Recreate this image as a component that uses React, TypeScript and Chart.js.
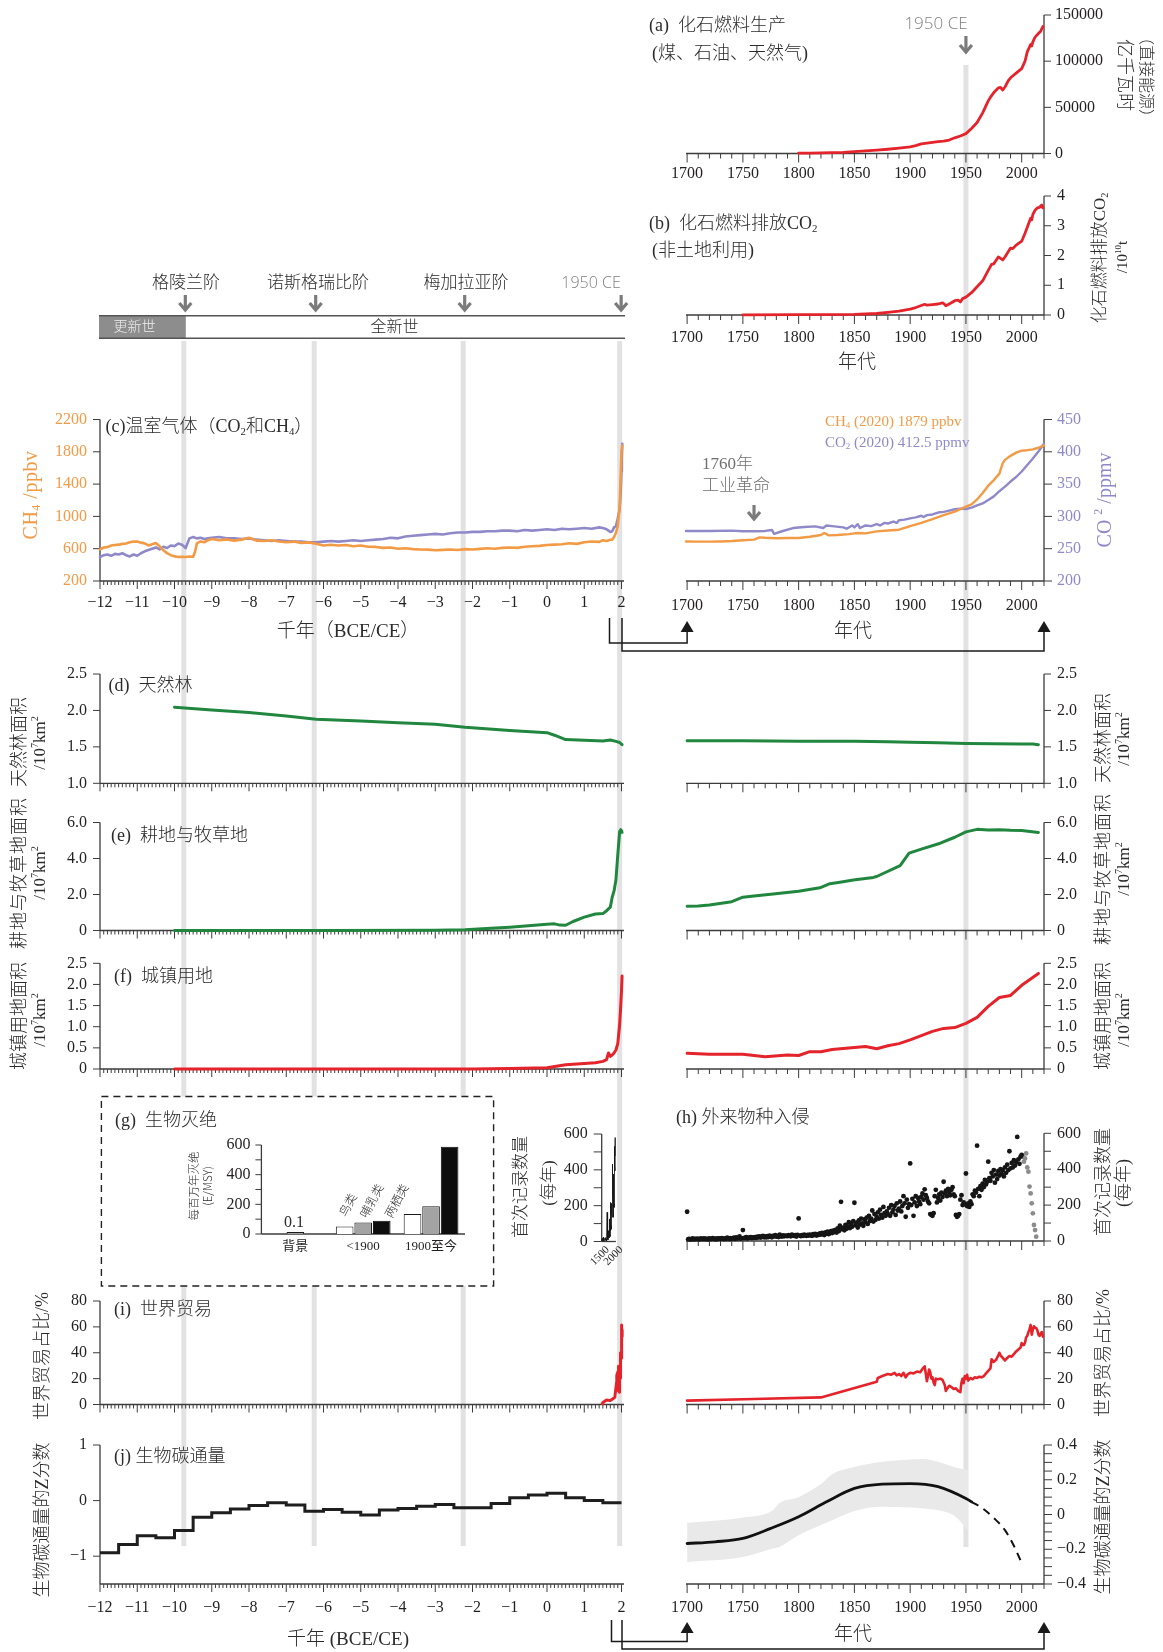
import React, { useEffect, useRef } from 'react';
import { Chart, registerables } from 'chart.js';

Chart.register(...registerables);

const SERIF = '"Liberation Serif", "Times New Roman", serif';
const CJK = '"Liberation Serif", "Noto Sans CJK SC", serif';
const CJK_SANS = '"Noto Sans CJK SC", "Noto Sans", sans-serif';
const SANS = '"Open Sans", "Noto Sans", sans-serif';

Chart.defaults.font.family = CJK;
Chart.defaults.font.size = 16;
Chart.defaults.color = '#231f20';

const RED = '#e4232b';
const GREEN = '#21873f';
const ORANGE = '#f39a45';
const PURPLE = '#8f89c9';
const INK = '#231f20';
const AXIS = '#3c3c3c';
const GRAYTXT = '#808080';
const BAND = '#e2e2e4';

// ---------------- DATA ----------------
// (a) fossil fuel production
const FF_YEAR = [1800,1810,1820,1830,1840,1850,1860,1870,1880,1890,1900,1905,1910,1915,1920,1925,1930,1935,1940,1945,1950,1955,1960,1965,1970,1972,1975,1979,1981,1983,1985,1988,1990,1995,2000,2003,2005,2008,2009,2010,2012,2015,2017,2019];
const FF_VALUE = [300,400,600,900,1300,2000,2800,3600,4600,5800,7200,8500,10500,11300,12000,12800,13500,14600,17000,19000,21500,27000,33500,44000,57000,61000,66000,71000,71500,68800,72000,79000,82000,87000,92000,100000,110000,118000,116500,121000,126000,130000,132500,137500];
const FF_TICKS = [0, 50000, 100000, 150000];

// (b) fossil CO2 emissions (10^10 t)
const CO2E_YEAR = [1750,1800,1850,1870,1880,1890,1900,1905,1910,1913,1915,1920,1925,1929,1930,1932,1935,1940,1943,1945,1947,1950,1955,1960,1965,1970,1973,1975,1979,1980,1983,1985,1990,1992,1995,2000,2003,2005,2008,2009,2010,2012,2014,2016,2018,2019];
const CO2E_VALUE = [0.003,0.01,0.02,0.05,0.09,0.13,0.2,0.25,0.32,0.36,0.33,0.35,0.37,0.41,0.39,0.31,0.37,0.48,0.5,0.44,0.55,0.6,0.75,0.95,1.15,1.5,1.7,1.72,1.95,1.93,1.85,1.95,2.25,2.23,2.35,2.48,2.75,2.95,3.25,3.2,3.38,3.52,3.6,3.62,3.7,3.6];
const CO2E_TICKS = [0, 1, 2, 3, 4];

// (c) greenhouse gases, ka BCE/CE
const GHG_KA = [-12,-11.9,-11.8,-11.7,-11.6,-11.5,-11.4,-11.3,-11.2,-11.1,
  -11,-10.9,-10.8,-10.7,-10.6,-10.5,-10.4,-10.3,-10.2,-10.1,
  -10,-9.9,-9.8,-9.7,-9.6,-9.5,-9.45,-9.4,-9.3,-9.2,
  -9.1,-9,-8.8,-8.6,-8.4,-8.2,-8,-7.8,-7.6,-7.4,
  -7.2,-7,-6.8,-6.6,-6.4,-6.2,-6,-5.8,-5.6,-5.4,
  -5.2,-5,-4.8,-4.6,-4.4,-4.2,-4,-3.8,-3.6,-3.4,
  -3.2,-3,-2.8,-2.6,-2.4,-2.2,-2,-1.8,-1.6,-1.4,
  -1.2,-1,-0.8,-0.6,-0.4,-0.2,0,0.2,0.4,0.6,
  0.8,1,1.2,1.4,1.5,1.6,1.7,1.75,1.8,1.85,
  1.9,1.95,1.98,2,2.01,2.02];
const CH4_L = [590,615,620,640,645,650,660,665,680,690,
  688,675,665,640,655,670,630,580,545,520,
  505,498,500,497,503,500,560,665,690,680,
  705,720,705,715,700,712,735,700,695,705,
  690,680,688,672,678,662,640,648,640,645,
  630,640,625,622,610,615,600,605,595,590,
  588,580,585,590,583,595,590,598,605,600,
  610,615,610,625,630,635,645,650,655,668,
  660,680,690,685,705,695,710,711,745,795,
  880,1120,1530,1815,1834,1879];
const CO2_L = [237,240,241,239,242,241,243,240,238,241,
  239,243,246,248,250,252,249,253,251,255,
  254,258,256,251,266,268,267,266,267,265,
  266,267,268,266,266,265,266,264,263,262,
  263,262,261,261,260,260,261,262,261,262,
  263,262,263,264,265,267,266,269,270,271,
  272,273,272,274,275,275,276,276,277,277,
  278,278,277,279,278,279,280,279,281,280,
  281,282,281,283,282,280,276,277,283,285,
  297,311,339,370,389,412.5];
const CH4_YEAR = [1699,1710,1720,1730,1740,1750,1760,1765,1770,1780,1790,1800,1810,1820,1823,1827,1835,1845,1850,1853,1860,1870,1880,1890,1900,1910,1920,1930,1940,1950,1955,1960,1965,1970,1975,1980,1983,1985,1990,1995,2000,2005,2010,2015,2020];
const CH4_R = [690,688,687,690,695,705,712,740,735,730,732,733,748,770,795,765,770,780,790,795,790,815,825,835,880,920,965,1015,1060,1120,1150,1210,1290,1380,1450,1530,1660,1700,1750,1790,1815,1820,1830,1850,1879];
const CO2_YEAR = [1699,1720,1740,1750,1760,1770,1776,1778,1785,1795,1805,1815,1822,1825,1830,1840,1843,1848,1850,1853,1855,1860,1865,1870,1873,1877,1880,1885,1888,1890,1895,1900,1905,1910,1912,1915,1920,1925,1930,1935,1940,1945,1950,1955,1960,1965,1970,1975,1980,1985,1990,1995,2000,2005,2010,2015,2020];
const CO2_R = [277.5,277.5,278,277,277,277.5,279,273,277,282,283.5,284.5,282,286,285,283,281,286,283,288,282,286,285,288,286,290,289,292,290,294,295,297,298.5,301,299,302,303,306,307,309,311,312,311.5,313.5,317,320,325.5,331,339,346,354,361,369.5,379.5,389.5,400.5,412.5];
const CH4_TICKS = [200, 600, 1000, 1400, 1800, 2200];
const CO2_TICKS = [200, 250, 300, 350, 400, 450];

// (d) natural forest, (e) cropland & pasture, (f) urban land (10^7 km2)
const FOREST_KA = [-10,-9,-8,-7,-6.2,-5,-4,-3,-2.2,-1,0,0.2,0.5,1.0,1.5,1.7,1.85,1.95,2.015];
const FOREST_L = [2.045,2.005,1.97,1.925,1.88,1.855,1.83,1.81,1.77,1.725,1.695,1.66,1.6,1.59,1.58,1.595,1.575,1.56,1.53];
const FOREST_YEAR = [1700,1750,1800,1850,1880,1900,1925,1950,1975,2000,2010,2015];
const FOREST_R = [1.585,1.583,1.578,1.576,1.57,1.565,1.557,1.547,1.542,1.54,1.538,1.53];
const FOREST_TICKS = [1.0, 1.5, 2.0, 2.5];

const CROP_KA = [-10,-6,-3,-2.2,-1.5,-1,-0.5,0,0.2,0.35,0.5,0.7,1.0,1.3,1.5,1.6,1.7,1.75,1.8,1.85,1.9,1.95,1.98,2.0,2.015];
const CROP_L = [0,0,0.01,0.04,0.12,0.18,0.26,0.35,0.37,0.3,0.29,0.5,0.74,0.92,0.94,1.1,1.3,1.85,2.2,2.8,4.2,5.5,5.6,5.55,5.45];
const CROP_YEAR = [1700,1710,1720,1740,1750,1760,1775,1800,1819,1828,1837,1849,1867,1870,1891,1899,1910,1927,1940,1950,1960,1970,1980,1990,2000,2015];
const CROP_R = [1.35,1.36,1.42,1.6,1.85,1.92,2.02,2.18,2.37,2.6,2.68,2.8,2.95,3.0,3.6,4.3,4.52,4.85,5.18,5.48,5.62,5.58,5.6,5.57,5.56,5.45];
const CROP_TICKS = [0, 2, 4, 6];

const URBAN_KA = [-10,-2,-1,0,0.5,1.0,1.3,1.5,1.6,1.65,1.7,1.75,1.8,1.85,1.9,1.95,1.98,2.0,2.015];
const URBAN_L = [0,0,0.01,0.03,0.1,0.13,0.15,0.18,0.22,0.38,0.3,0.33,0.38,0.45,0.6,1.05,1.5,1.85,2.2];
const URBAN_YEAR = [1700,1720,1750,1770,1790,1800,1810,1820,1830,1850,1860,1870,1880,1890,1900,1910,1920,1930,1940,1950,1960,1970,1980,1990,2000,2015];
const URBAN_R = [0.37,0.35,0.35,0.29,0.33,0.32,0.41,0.41,0.46,0.51,0.53,0.48,0.55,0.6,0.69,0.79,0.89,0.96,0.98,1.08,1.22,1.48,1.69,1.74,1.98,2.26];
const URBAN_TICKS = [0, 0.5, 1.0, 1.5, 2.0, 2.5];

// (g) extinctions (E/MSY)
const EXT_GROUPS = ['背景', '<1900', '1900至今'];
const EXT_BIRDS = [null, 50, 135];
const EXT_MAMMALS = [0.1, 78, 187];
const EXT_AMPHIBIANS = [null, 90, 589];
const EXT_TICKS = [0, 200, 400, 600];

// (h) first records of alien species per year, 1700-2000 (black) and recent (gray)
const INV_START = 1700;
const INV_VALUES = [
  163,10,12,8,11,14,9,12,10,13,
  11,9,14,12,10,15,11,13,9,12,
  14,10,12,16,11,13,9,15,12,14,
  12,16,13,10,15,12,18,14,11,16,
  15,13,18,12,20,14,17,25,13,16,
  61,15,18,22,14,19,17,21,16,20,
  18,22,17,24,20,26,19,23,28,21,
  25,20,27,22,30,24,21,28,26,32,
  24,29,22,35,27,25,31,26,30,28,
  27,33,29,26,35,30,28,32,25,34,
  126,30,27,33,29,36,31,28,34,30,
  35,32,29,38,33,40,30,37,34,42,
  36,45,39,33,48,41,52,38,46,55,
  44,58,50,62,47,70,55,85,218,66,
  75,60,90,68,82,105,72,95,80,110,
  213,88,102,75,115,92,125,98,85,120,
  105,130,95,140,112,125,170,108,150,118,
  135,160,125,175,145,130,190,155,140,165,
  150,185,140,200,160,175,195,145,210,170,
  180,220,165,195,250,210,135,230,185,205,
  432,200,235,140,215,250,195,240,220,205,
  245,265,230,288,255,240,220,210,150,145,
  140,155,250,285,215,240,260,225,270,245,
  330,265,280,250,290,270,255,285,300,260,
  250,145,135,140,150,230,255,200,215,205,
  376,195,210,190,220,205,260,250,280,270,
  531,290,250,305,285,320,300,340,315,330,
  442,350,335,380,360,395,325,370,345,390,
  365,400,375,395,360,410,380,425,395,500,
  405,435,410,450,420,440,580,455,430,470,
  480];
const INV_RECENT_YEAR = [2001,2002,2003,2004,2005,2006,2007,2008,2009,2010,2011,2012,2013];
const INV_RECENT = [470,442,460,488,410,386,303,265,210,154,89,61,24];
const INV_TICKS = [0, 200, 400, 600];
const INSET_EARLY_YEAR = [1500,1510,1520,1530,1540,1550,1560,1570,1580,1590,1600,1610,1620,1630,1640,1650,1660,1670,1680,1690];
const INSET_EARLY = [5,12,3,20,8,15,2,25,10,6,18,4,14,9,22,7,16,11,3,19];
const INSET_X_TICKS = [1500, 2000];

// (i) world trade share (%)
const TRADE_EARLY_YEAR = [1480, 1500, 1550, 1600, 1650];
const TRADE_EARLY = [0.8, 1.5, 2.5, 3.5, 3.2];
const TRADE_YEAR = [1700,1760,1820,1870,1871,1875,1880,1883,1886,1888,1890,1892,1894,1896,1898,1900,1903,1906,1909,1911,1913,1914,1915,1916,1917,1918,1919,1920,1921,1922,1923,1925,1927,1929,1931,1932,1933,1935,1937,1939,1941,1943,1945,1946,1947,1948,1949,1950,1951,1952,1954,1956,1958,1960,1962,1964,1966,1968,1970,1972,1973,1974,1975,1977,1979,1980,1981,1983,1985,1987,1989,1991,1993,1995,1997,1999,2000,2001,2002,2003,2004,2005,2006,2007,2008,2009,2010,2011,2012,2013,2014,2015,2016,2017,2018,2019];
const TRADE_VALUE = [3.0,4.2,5.5,17.5,20.5,22,23.5,23,24.5,22.5,23.5,22,24.5,21,23.5,24.5,24,25.5,25,27.5,29.5,24,18,22,27,25,20,21,17,15,20,19.5,20,19,15,10.5,12,14.5,13.5,12,12.5,10.5,9.5,17,20,16.5,22,20,23,18.5,20.5,19.5,21,20.5,21.5,21,22,24,26,28,35,34,33,34.5,38,40,38,36,34,36,37.5,37,39,41,42.5,44,47.5,46,46,48,52,53,56,58,61.5,54,58,60.5,59.5,59,57.5,54,53,55,56,52.5];
const TRADE_TICKS = [0, 20, 40, 60, 80];

// (j) biological carbon flux z-score
const CARBON_BIN_KA = [-12,-11.5,-11,-10.5,-10,-9.5,-9,-8.5,-8,-7.5,-7,-6.5,-6,-5.5,-5,-4.5,-4,-3.5,-3,-2.5,-2,-1.5,-1,-0.5,0,0.5,1,1.5];
const CARBON_Z_L = [-0.94,-0.79,-0.63,-0.67,-0.54,-0.30,-0.22,-0.15,-0.09,-0.04,-0.08,-0.19,-0.16,-0.21,-0.26,-0.17,-0.14,-0.10,-0.07,-0.13,-0.13,-0.05,0.05,0.10,0.13,0.05,0.00,-0.04];
const CARBON_BIN_END_KA = 2;
const CARBON_YEAR = [1700,1725,1750,1775,1800,1825,1850,1875,1900,1925,1950,1955];
const CARBON_Z = [-0.167,-0.157,-0.138,-0.08,-0.013,0.073,0.15,0.175,0.178,0.16,0.092,0.073];
const CARBON_PROJ_YEAR = [1955,1965,1975,1985,1993,2000];
const CARBON_PROJ = [0.073,0.035,-0.02,-0.09,-0.18,-0.28];
const CI_YEAR = [1700,1750,1777,1783,1800,1820,1831,1850,1875,1900,1912,1925,1939,1952];
const CI_UPPER = [-0.048,-0.017,0.025,0.067,0.10,0.175,0.236,0.274,0.303,0.317,0.32,0.303,0.274,0.255];
const CI_LOWER = [-0.273,-0.244,-0.196,-0.185,-0.119,-0.061,-0.03,0.02,0.044,0.04,0.035,0.025,-0.004,-0.09];
const CARBON_TICKS_L = [-1, 0, 1];
const CARBON_TICKS_R = [-0.4, -0.2, 0, 0.2, 0.4];

// axes ticks
const KA_TICKS = [-12,-11,-10,-9,-8,-7,-6,-5,-4,-3,-2,-1,0,1,2];
const YEAR_TICKS = [1700, 1750, 1800, 1850, 1900, 1950, 2000];
const BOUNDARIES_KA = [-9.75, -6.25, -2.25, 1.95];

// ---------------- GEOMETRY ----------------
const LX = { L: 100, R: 624, min: -12, max: 2.067 };
const RX = { L: 686, R: 1044, min: 1699, max: 2020 };
const lin = (v: number, ax: any) => ax.L + ((v - ax.min) * (ax.R - ax.L)) / (ax.max - ax.min);

const minusStr = (s: string) => s.replace('-', '\u2212');
const fmtInt = (v: number) => minusStr(String(v));
const fmtPlain = (v: number) => String(v);
const fmt1 = (v: number) => (v === 0 ? '0' : v.toFixed(1));
const fmtJ = (v: number) => (Math.abs(v) < 1e-9 ? '0' : minusStr(v.toFixed(1)));

const pairs = (xs: number[], ys: any[], k = 1) => xs.map((x, i) => ({ x: x * k, y: ys[i] }));

function line(data: any[], color: string, width: number, extra: any = {}) {
  return {
    data, borderColor: color, borderWidth: width, pointRadius: 0, fill: false, tension: 0,
    borderJoinStyle: 'round', borderCapStyle: 'round', clip: false, ...extra,
  };
}

function axisMarks(marks: any[]) {
  return {
    id: 'axisMarks',
    beforeDatasetsDraw(chart: any) {
      const ctx = chart.ctx;
      const a = chart.chartArea;
      ctx.save();
      ctx.strokeStyle = AXIS;
      for (const m of marks) {
        const s = chart.scales[m.id];
        ctx.lineWidth = 1.3;
        ctx.beginPath();
        if (m.pos === 'bottom') { ctx.moveTo(a.left, a.bottom); ctx.lineTo(a.right, a.bottom); }
        else if (m.pos === 'left') { ctx.moveTo(a.left, a.top); ctx.lineTo(a.left, a.bottom); }
        else { ctx.moveTo(a.right, a.top); ctx.lineTo(a.right, a.bottom); }
        ctx.stroke();
        if (!m.minor) continue;
        ctx.lineWidth = 1;
        ctx.beginPath();
        const n = Math.round((m.to - m.from) / m.minor);
        for (let i = 0; i <= n; i++) {
          const v = m.from + i * m.minor;
          const r = m.major ? v / m.major : 0;
          const isMajor = !m.major || Math.abs(r - Math.round(r)) < 1e-6;
          const len = isMajor ? m.majorLen : m.minorLen;
          const p = s.getPixelForValue(v);
          if (m.pos === 'bottom') { ctx.moveTo(p, a.bottom); ctx.lineTo(p, a.bottom + len); }
          else if (m.pos === 'left') { ctx.moveTo(a.left, p); ctx.lineTo(a.left - len, p); }
          else { ctx.moveTo(a.right, p); ctx.lineTo(a.right + len, p); }
        }
        ctx.stroke();
      }
      ctx.restore();
    },
  };
}

function geom(b: any, m: number[]) {
  const left = Math.floor(b.L - m[0]);
  const top = Math.floor(b.T - m[1]);
  const right = Math.ceil(b.R + m[2]);
  const bottom = Math.ceil(b.B + m[3]);
  return { left, top, width: right - left, height: bottom - top, ml: b.L - left, mt: b.T - top, mr: right - b.R, mb: bottom - b.B };
}

function buildConfig(spec: any, g: any) {
  const scales: any = {};
  const hasLeft = spec.ys.some((y: any) => y.pos === 'left' && !y.hidden);
  const hasRight = spec.ys.some((y: any) => y.pos === 'right' && !y.hidden);
  const x = spec.x;
  const isCat = x.type === 'category';
  const xs: any = {
    type: isCat ? 'category' : 'linear', position: 'bottom', display: true, offset: isCat,
    grid: { display: false, drawTicks: false }, border: { display: false },
    ticks: {
      display: x.show, padding: x.pad ?? 12, autoSkip: false,
      maxRotation: x.rot ?? 0, minRotation: x.rot ?? 0,
      font: { size: x.size ?? 16 }, color: INK, labelOffset: x.labelOffset ?? 0,
    },
    afterFit: (s: any) => { s.height = g.mb; },
  };
  if (!isCat) { xs.min = x.min; xs.max = x.max; xs.bounds = 'data'; }
  if (x.fmt) xs.ticks.callback = (v: number) => x.fmt(v);
  if (x.ticks) xs.afterBuildTicks = (s: any) => { s.ticks = x.ticks.map((v: number) => ({ value: v })); };
  scales.x = xs;
  for (const y of spec.ys) {
    const ys: any = {
      type: 'linear', position: y.pos, display: !y.hidden, min: y.min, max: y.max, bounds: 'data',
      grid: { display: false, drawTicks: false }, border: { display: false },
      ticks: { padding: y.pad ?? 13, font: { size: y.size ?? 16 }, color: y.color ?? INK, autoSkip: false,
        callback: (v: number) => (y.fmt ? y.fmt(v) : String(v)) },
    };
    if (!y.hidden) ys.afterFit = (s: any) => { s.width = y.pos === 'left' ? g.ml : g.mr; };
    if (y.ticks) ys.afterBuildTicks = (s: any) => { s.ticks = y.ticks.map((v: number) => ({ value: v })); };
    scales[y.id] = ys;
  }
  const data: any = { datasets: spec.datasets };
  if (spec.labels) data.labels = spec.labels;
  return {
    type: spec.type,
    data,
    options: {
      responsive: false, animation: false, events: [],
      layout: { padding: { left: hasLeft ? 0 : g.ml, right: hasRight ? 0 : g.mr, top: g.mt, bottom: 0 } },
      plugins: { legend: { display: false }, tooltip: { enabled: false }, title: { display: false } },
      scales,
    },
    plugins: [axisMarks(spec.marks)],
  };
}

function ChartBox({ spec }: { spec: any }) {
  const ref = useRef<HTMLCanvasElement>(null);
  const g = geom(spec.box, spec.m);
  useEffect(() => {
    const chart = new Chart(ref.current as HTMLCanvasElement, buildConfig(spec, g) as any);
    return () => chart.destroy();
  }, []);
  return (
    <canvas ref={ref} width={g.width} height={g.height}
      style={{ position: 'absolute', left: g.left, top: g.top, width: g.width, height: g.height }} />
  );
}

// ---------------- PANEL SPECS ----------------
const LXM = { id: 'x', pos: 'bottom', from: -12, to: 2, minor: 0.1, major: 1, minorLen: 4, majorLen: 8 };
const RXM = { id: 'x', pos: 'bottom', from: 1700, to: 2020, minor: 10, major: 50, minorLen: 5, majorLen: 9 };
const LM = [60, 28, 30, 28];
const RM = [45, 28, 72, 28];
const LML = [60, 28, 30, 40];
const RML = [45, 28, 72, 40];
const lbox = (T: number, B: number) => ({ L: LX.L, R: LX.R, T, B });
const rbox = (T: number, B: number) => ({ L: RX.L, R: RX.R, T, B });
const lx = (show = false, pad = 12) => ({ min: LX.min, max: LX.max, ticks: KA_TICKS, show, pad, fmt: fmtInt });
const rx = (show = false, pad = 12) => ({ min: RX.min, max: RX.max, ticks: YEAR_TICKS, show, pad, fmt: fmtPlain });

const SPECS: any[] = [
  // (a)
  { box: rbox(15, 153.5), m: RML, type: 'line', x: rx(true, 11),
    ys: [{ id: 'y', pos: 'right', min: 0, max: 150000, ticks: FF_TICKS, pad: 11 }],
    datasets: [line(pairs(FF_YEAR, FF_VALUE), RED, 2.8)],
    marks: [RXM, { id: 'y', pos: 'right', from: 0, to: 150000, minor: 50000, majorLen: 7 }] },
  // (b)
  { box: rbox(196, 315), m: RML, type: 'line', x: rx(true, 13),
    ys: [{ id: 'y', pos: 'right', min: 0, max: 4, ticks: CO2E_TICKS }],
    datasets: [line(pairs(CO2E_YEAR, CO2E_VALUE), RED, 2.8)],
    marks: [RXM, { id: 'y', pos: 'right', from: 0, to: 4, minor: 1, majorLen: 7 }] },
  // (c) left
  { box: lbox(419.5, 581), m: LML, type: 'line', x: lx(true, 12.4),
    ys: [{ id: 'y', pos: 'left', min: 200, max: 2200, ticks: CH4_TICKS, color: ORANGE },
         { id: 'y2', pos: 'right', hidden: true, min: 200, max: 450 }],
    datasets: [line(pairs(GHG_KA, CH4_L), ORANGE, 2.6, { yAxisID: 'y' }),
               line(pairs(GHG_KA, CO2_L), PURPLE, 2.6, { yAxisID: 'y2' })],
    marks: [LXM, { id: 'y', pos: 'left', from: 200, to: 2200, minor: 400, majorLen: 7 }] },
  // (c) right
  { box: rbox(419.5, 581), m: RML, type: 'line', x: rx(true, 15),
    ys: [{ id: 'y', pos: 'right', min: 200, max: 450, ticks: CO2_TICKS, color: PURPLE },
         { id: 'y2', pos: 'left', hidden: true, min: 200, max: 2200 }],
    datasets: [line(pairs(CH4_YEAR, CH4_R), ORANGE, 2.4, { yAxisID: 'y2' }),
               line(pairs(CO2_YEAR, CO2_R), PURPLE, 2.4, { yAxisID: 'y' })],
    marks: [RXM, { id: 'y', pos: 'right', from: 200, to: 450, minor: 50, majorLen: 8 }] },
  // (d)
  { box: lbox(674, 783.3), m: LM, type: 'line', x: lx(),
    ys: [{ id: 'y', pos: 'left', min: 1, max: 2.5, ticks: FOREST_TICKS, fmt: fmt1 }],
    datasets: [line(pairs(FOREST_KA, FOREST_L), GREEN, 3)],
    marks: [LXM, { id: 'y', pos: 'left', from: 1, to: 2.5, minor: 0.5, majorLen: 7 }] },
  { box: rbox(674, 783.3), m: RM, type: 'line', x: rx(),
    ys: [{ id: 'y', pos: 'right', min: 1, max: 2.5, ticks: FOREST_TICKS, fmt: fmt1 }],
    datasets: [line(pairs(FOREST_YEAR, FOREST_R), GREEN, 3)],
    marks: [RXM, { id: 'y', pos: 'right', from: 1, to: 2.5, minor: 0.5, majorLen: 7 }] },
  // (e)
  { box: lbox(822.5, 930.5), m: LM, type: 'line', x: lx(),
    ys: [{ id: 'y', pos: 'left', min: 0, max: 6, ticks: CROP_TICKS, fmt: fmt1 }],
    datasets: [line(pairs(CROP_KA, CROP_L), GREEN, 3)],
    marks: [LXM, { id: 'y', pos: 'left', from: 0, to: 6, minor: 2, majorLen: 7 }] },
  { box: rbox(822.5, 930.5), m: RM, type: 'line', x: rx(),
    ys: [{ id: 'y', pos: 'right', min: 0, max: 6, ticks: CROP_TICKS, fmt: fmt1 }],
    datasets: [line(pairs(CROP_YEAR, CROP_R), GREEN, 3)],
    marks: [RXM, { id: 'y', pos: 'right', from: 0, to: 6, minor: 2, majorLen: 7 }] },
  // (f)
  { box: lbox(963.3, 1069), m: LM, type: 'line', x: lx(),
    ys: [{ id: 'y', pos: 'left', min: 0, max: 2.5, ticks: URBAN_TICKS, fmt: fmt1 }],
    datasets: [line(pairs(URBAN_KA, URBAN_L), RED, 3)],
    marks: [LXM, { id: 'y', pos: 'left', from: 0, to: 2.5, minor: 0.5, majorLen: 7 }] },
  { box: rbox(963.3, 1069), m: RM, type: 'line', x: rx(),
    ys: [{ id: 'y', pos: 'right', min: 0, max: 2.5, ticks: URBAN_TICKS, fmt: fmt1 }],
    datasets: [line(pairs(URBAN_YEAR, URBAN_R), RED, 3)],
    marks: [RXM, { id: 'y', pos: 'right', from: 0, to: 2.5, minor: 0.5, majorLen: 7 }] },
  // (g) extinctions
  { box: { L: 261.4, R: 465, T: 1145, B: 1234 }, m: [50, 28, 10, 28], type: 'bar',
    labels: EXT_GROUPS,
    x: { type: 'category', show: true, pad: 5, size: 13 },
    ys: [{ id: 'y', pos: 'left', min: 0, max: 600, ticks: EXT_TICKS, pad: 11 }],
    datasets: [
      { data: EXT_BIRDS, backgroundColor: '#ffffff', borderColor: '#1a1a1a', borderWidth: 1, barPercentage: 0.95, categoryPercentage: 0.82 },
      { data: EXT_MAMMALS, backgroundColor: '#a3a3a3', borderColor: '#1a1a1a', borderWidth: 1, barPercentage: 0.95, categoryPercentage: 0.82, minBarLength: 2 },
      { data: EXT_AMPHIBIANS, backgroundColor: '#0d0d0d', borderColor: '#0d0d0d', borderWidth: 1, barPercentage: 0.95, categoryPercentage: 0.82 },
    ],
    marks: [{ id: 'x', pos: 'bottom' }, { id: 'y', pos: 'left', from: 0, to: 600, minor: 100, majorLen: 6 }] },
  // (g) inset: first records 1500-2000
  { box: { L: 601.7, R: 618.3, T: 1134, B: 1241.5 }, m: [48, 28, 8, 34], type: 'line',
    x: { min: 1500, max: 2020, ticks: INSET_X_TICKS, show: true, rot: 45, size: 11, pad: 2, labelOffset: 6, fmt: fmtPlain },
    ys: [{ id: 'y', pos: 'left', min: 0, max: 600, ticks: INV_TICKS, pad: 14 }],
    datasets: [line(pairs(INSET_EARLY_YEAR, INSET_EARLY).concat(pairs(INV_VALUES.map((_, i) => INV_START + i), INV_VALUES)), 'rgba(20,20,20,0.85)', 1)],
    marks: [{ id: 'x', pos: 'bottom' }, { id: 'y', pos: 'left', from: 0, to: 600, minor: 100, majorLen: 8 }] },
  // (h)
  { box: rbox(1133.3, 1241), m: RM, type: 'scatter', x: rx(),
    ys: [{ id: 'y', pos: 'right', min: 0, max: 600, ticks: INV_TICKS }],
    datasets: [
      { data: pairs(INV_VALUES.map((_, i) => INV_START + i), INV_VALUES), pointRadius: 2.4, pointBackgroundColor: '#151515', pointBorderWidth: 0, clip: false },
      { data: pairs(INV_RECENT_YEAR, INV_RECENT), pointRadius: 2.4, pointBackgroundColor: '#8c8c8c', pointBorderWidth: 0, clip: false },
    ],
    marks: [RXM, { id: 'y', pos: 'right', from: 0, to: 600, minor: 100, majorLen: 7 }] },
  // (i)
  { box: lbox(1301, 1404.5), m: LM, type: 'line', x: lx(),
    ys: [{ id: 'y', pos: 'left', min: 0, max: 80, ticks: TRADE_TICKS }],
    datasets: [line(pairs(TRADE_EARLY_YEAR, TRADE_EARLY, 0.001).concat(pairs(TRADE_YEAR, TRADE_VALUE, 0.001)), RED, 3)],
    marks: [LXM, { id: 'y', pos: 'left', from: 0, to: 80, minor: 20, majorLen: 7 }] },
  { box: rbox(1301, 1404.5), m: RM, type: 'line', x: rx(),
    ys: [{ id: 'y', pos: 'right', min: 0, max: 80, ticks: TRADE_TICKS }],
    datasets: [line(pairs(TRADE_YEAR, TRADE_VALUE), RED, 2.6)],
    marks: [RXM, { id: 'y', pos: 'right', from: 0, to: 80, minor: 20, majorLen: 7 }] },
  // (j)
  { box: lbox(1445, 1584), m: LML, type: 'line', x: lx(true, 14.5),
    ys: [{ id: 'y', pos: 'left', min: -1.5, max: 1, ticks: CARBON_TICKS_L, fmt: fmtInt }],
    datasets: [line(pairs(CARBON_BIN_KA, CARBON_Z_L).concat([{ x: CARBON_BIN_END_KA, y: CARBON_Z_L[CARBON_Z_L.length - 1] }]), '#1e1e1e', 3,
      { stepped: 'before', borderJoinStyle: 'miter', borderCapStyle: 'butt' })],
    marks: [LXM, { id: 'y', pos: 'left', from: -1, to: 1, minor: 1, majorLen: 7 }] },
  { box: rbox(1445, 1584), m: RML, type: 'line', x: rx(true, 14.5),
    ys: [{ id: 'y', pos: 'right', min: -0.4, max: 0.4, ticks: CARBON_TICKS_R, fmt: fmtJ }],
    datasets: [
      line(pairs(CARBON_YEAR, CARBON_Z), '#111111', 2.8, { tension: 0.4, cubicInterpolationMode: 'monotone' }),
      line(pairs(CARBON_PROJ_YEAR, CARBON_PROJ), '#111111', 2, { tension: 0.4, cubicInterpolationMode: 'monotone', borderDash: [8, 6], borderCapStyle: 'butt' }),
      line(pairs(CI_YEAR, CI_UPPER), 'rgba(0,0,0,0)', 0, { fill: '+1', backgroundColor: '#e9e9e9', tension: 0.4, cubicInterpolationMode: 'monotone' }),
      line(pairs(CI_YEAR, CI_LOWER), 'rgba(0,0,0,0)', 0, { tension: 0.4, cubicInterpolationMode: 'monotone' }),
    ],
    marks: [RXM, { id: 'y', pos: 'right', from: -0.4, to: 0.4, minor: 0.05, majorLen: 8 }] },
];

// ---------------- TEXT HELPERS ----------------
function Tx({ x, y, children, size = 18, color = '#2b2b2b', rot = 0, a = 'c', family = CJK, ls = 0 }: any) {
  const tr = a === 'c' ? 'translate(-50%,-50%)' : 'translate(0,-50%)';
  return (
    <div style={{ position: 'absolute', left: x, top: y, transform: `${tr} rotate(${rot}deg)`, fontSize: size, color,
      fontFamily: family, whiteSpace: 'nowrap', lineHeight: 1, letterSpacing: ls, fontWeight: 300 }}>{children}</div>
  );
}
const Sub = ({ c }: any) => <span style={{ fontSize: '0.6em', verticalAlign: '-0.3em' }}>{c}</span>;
const Sup = ({ c }: any) => <span style={{ fontSize: '0.6em', verticalAlign: '0.75em' }}>{c}</span>;
const Km = () => <>/10<Sup c="7" />km<Sup c="2" /></>;

function GrayArrow({ x, y0, y1 }: any) {
  return (
    <g stroke="#7b7b7b" strokeWidth={3.2} fill="none">
      <line x1={x} y1={y0} x2={x} y2={y1 - 1.5} />
      <polyline points={`${x - 6},${y1 - 7} ${x},${y1} ${x + 6},${y1 - 7}`} strokeLinejoin="miter" />
    </g>
  );
}
function Tri({ x, tip }: any) {
  return <polygon points={`${x},${tip} ${x - 6.5},${tip + 11} ${x + 6.5},${tip + 11}`} fill="#1a1a1a" />;
}

export default function App() {
  const bandsL = BOUNDARIES_KA.map((v) => lin(v, LX));
  const band1950 = lin(1950, RX);
  const x1700 = lin(1700, RX);
  const x2020 = lin(2020, RX);
  return (
    <div style={{ position: 'absolute', left: 0, top: 0, width: 1163, height: 1652, background: '#ffffff', overflow: 'hidden' }}>
      <svg width={1163} height={1652} style={{ position: 'absolute', left: 0, top: 0 }}>
        {bandsL.map((bx, i) => <rect key={i} x={bx - 2.5} y={341} width={5} height={1205} fill={BAND} />)}
        <rect x={band1950 - 2.5} y={65} width={5} height={1482} fill={BAND} />
      </svg>
      <svg width={1163} height={1652} style={{ position: 'absolute', left: 0, top: 0 }}>
        <rect x={101.4} y={1096.5} width={392.2} height={189.5} fill="#ffffff" stroke="#222" strokeWidth={1.4} strokeDasharray="7 5" />
      </svg>
      {SPECS.map((s, i) => <ChartBox key={i} spec={s} />)}
      <svg width={1163} height={1652} style={{ position: 'absolute', left: 0, top: 0 }}>
        {/* geological time bar */}
        <rect x={99} y={316} width={bandsL[0] + 2 - 99} height={22.3} fill="#8d8d8d" />
        <line x1={99} y1={315.7} x2={625} y2={315.7} stroke="#555" strokeWidth={1.6} />
        <line x1={99} y1={338.3} x2={625} y2={338.3} stroke="#555" strokeWidth={1.6} />
        {bandsL.map((bx, i) => <GrayArrow key={i} x={bx + 1.5} y0={295} y1={310} />)}
        <GrayArrow x={band1950} y0={36} y1={52} />
        <GrayArrow x={lin(1760, RX)} y0={505} y1={519} />
        {/* connectors */}
        <path d={`M 609.5 618 V 643 H ${x1700} V 632`} stroke="#1a1a1a" strokeWidth={1.5} fill="none" />
        <path d={`M 622 618 V 651 H ${x2020} V 632`} stroke="#1a1a1a" strokeWidth={1.5} fill="none" />
        <Tri x={x1700} tip={621} />
        <Tri x={x2020} tip={621} />
        <path d={`M 611.5 1620 V 1641.5 H ${x1700} V 1633`} stroke="#1a1a1a" strokeWidth={1.5} fill="none" />
        <path d={`M 622 1620 V 1649 H ${x2020} V 1633`} stroke="#1a1a1a" strokeWidth={1.5} fill="none" />
        <Tri x={x1700} tip={1622} />
        <Tri x={x2020} tip={1622} />
      </svg>

      {/* (a) */}
      <Tx x={649} y={25} a="l">(a)&ensp;化石燃料生产</Tx>
      <Tx x={652} y={53} a="l">(煤、石油、天然气)</Tx>
      <Tx x={936} y={21.5} size={17} color={GRAYTXT} family={SANS}>1950 CE</Tx>
      <Tx x={1125} y={75} rot={90} size={18}>亿千瓦时</Tx>
      <Tx x={1146} y={77} rot={90} size={16}>（直接能源）</Tx>
      {/* (b) */}
      <Tx x={649} y={224} a="l">(b)&ensp;化石燃料排放CO<Sub c="2" /></Tx>
      <Tx x={652} y={250} a="l">(非土地利用)</Tx>
      <Tx x={1101} y={258} rot={-90} size={17}>化石燃料排放CO<Sub c="2" /></Tx>
      <Tx x={1122} y={257} rot={-90} size={15} family={SERIF}>/10<Sup c="10" />t</Tx>
      <Tx x={857} y={361} size={19}>年代</Tx>
      {/* timeline */}
      <Tx x={186} y={281.7} size={17}>格陵兰阶</Tx>
      <Tx x={318} y={281.7} size={17}>诺斯格瑞比阶</Tx>
      <Tx x={466} y={281.7} size={17}>梅加拉亚阶</Tx>
      <Tx x={591} y={281.7} size={16} color={GRAYTXT} family={SANS}>1950 CE</Tx>
      <Tx x={134.5} y={327} size={14} color="#eeeeee">更新世</Tx>
      <Tx x={394.5} y={327} size={16}>全新世</Tx>
      {/* (c) */}
      <Tx x={105.5} y={427} a="l">(c)温室气体（CO<Sub c="2" />和CH<Sub c="4" />）</Tx>
      <Tx x={31} y={495} rot={-90} size={20} color={ORANGE} family={SERIF} ls={0.5}>CH<Sub c="4" /> /ppbv</Tx>
      <Tx x={348} y={630} size={19}>千年（BCE/CE）</Tx>
      <Tx x={825} y={421.7} a="l" size={15} color={ORANGE} family={SERIF}>CH<Sub c="4" /> (2020) 1879 ppbv</Tx>
      <Tx x={825} y={443.3} a="l" size={15} color={PURPLE} family={SERIF}>CO<Sub c="2" /> (2020) 412.5 ppmv</Tx>
      <Tx x={702} y={463} a="l" size={17} color="#707070">1760年</Tx>
      <Tx x={702} y={485} a="l" size={17} color="#707070">工业革命</Tx>
      <Tx x={1103} y={500} rot={-90} size={20} color={PURPLE} family={SERIF}>CO <Sup c="2" /> /ppmv</Tx>
      <Tx x={853} y={630} size={19}>年代</Tx>
      {/* (d) */}
      <Tx x={108.6} y={685} a="l">(d)&ensp;天然林</Tx>
      <Tx x={18.7} y={742} rot={-90}>天然林面积</Tx>
      <Tx x={39.4} y={743} rot={-90} size={17} family={SERIF}><Km /></Tx>
      <Tx x={1103} y={738} rot={-90}>天然林面积</Tx>
      <Tx x={1123} y={739} rot={-90} size={17} family={SERIF}><Km /></Tx>
      {/* (e) */}
      <Tx x={111} y={835} a="l">(e)&ensp;耕地与牧草地</Tx>
      <Tx x={18.7} y={873} rot={-90} ls={1}>耕地与牧草地面积</Tx>
      <Tx x={39.4} y={873} rot={-90} size={17} family={SERIF}><Km /></Tx>
      <Tx x={1103} y={869} rot={-90} ls={1}>耕地与牧草地面积</Tx>
      <Tx x={1123} y={869} rot={-90} size={17} family={SERIF}><Km /></Tx>
      {/* (f) */}
      <Tx x={114} y={976} a="l">(f)&ensp;城镇用地</Tx>
      <Tx x={18.7} y={1016} rot={-90}>城镇用地面积</Tx>
      <Tx x={39.4} y={1020} rot={-90} size={17} family={SERIF}><Km /></Tx>
      <Tx x={1103} y={1016} rot={-90}>城镇用地面积</Tx>
      <Tx x={1123} y={1020} rot={-90} size={17} family={SERIF}><Km /></Tx>
      {/* (g) */}
      <Tx x={115} y={1120} a="l">(g)&ensp;生物灭绝</Tx>
      <Tx x={193.6} y={1186} rot={-90} size={11.5} family={CJK_SANS}>每百万年灭绝</Tx>
      <Tx x={208} y={1186} rot={-90} size={11.5} family={CJK_SANS}>(E/MSY)</Tx>
      <Tx x={294} y={1221.7} size={16} family={SERIF}>0.1</Tx>
      <Tx x={347.5} y={1205} rot={-62} size={12}>鸟类</Tx>
      <Tx x={372} y={1201} rot={-62} size={12}>哺乳类</Tx>
      <Tx x={397} y={1200.5} rot={-62} size={12}>两栖类</Tx>
      <Tx x={520} y={1187} rot={-90} size={17}>首次记录数量</Tx>
      <Tx x={548} y={1183} rot={-90} size={17}>(每年)</Tx>
      {/* (h) */}
      <Tx x={676} y={1116.7} a="l">(h) 外来物种入侵</Tx>
      <Tx x={1103} y={1182} rot={-90}>首次记录数量</Tx>
      <Tx x={1123} y={1183} rot={-90}>(每年)</Tx>
      {/* (i) */}
      <Tx x={114} y={1309} a="l">(i)&ensp;世界贸易</Tx>
      <Tx x={41.5} y={1356} rot={-90}>世界贸易占比/%</Tx>
      <Tx x={1103} y={1353} rot={-90}>世界贸易占比/%</Tx>
      {/* (j) */}
      <Tx x={114} y={1456} a="l">(j) 生物碳通量</Tx>
      <Tx x={41.5} y={1520} rot={-90}>生物碳通量的Z分数</Tx>
      <Tx x={1103} y={1517} rot={-90}>生物碳通量的Z分数</Tx>
      <Tx x={348} y={1638} size={19}>千年 (BCE/CE)</Tx>
      <Tx x={853} y={1633} size={19}>年代</Tx>
    </div>
  );
}
